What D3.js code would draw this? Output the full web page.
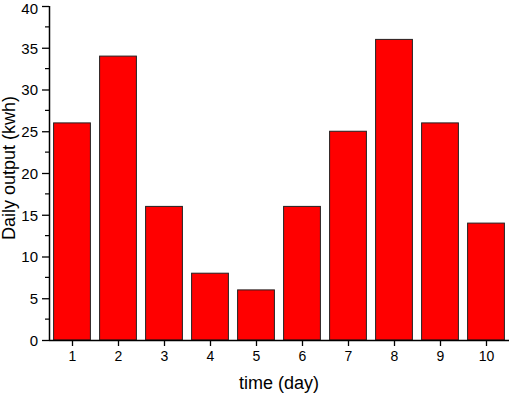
<!DOCTYPE html>
<html><head><meta charset="utf-8">
<script src="https://cdn.jsdelivr.net/npm/d3@7"></script>
<style>body{margin:0;background:#fff}svg{display:block}text{font-family:Arial,"Liberation Sans",sans-serif;fill:#000}</style>
</head><body>
<svg id="c" width="510" height="395"></svg>
<script>
const days = [1,2,3,4,5,6,7,8,9,10];
const output = [26,34,16,8,6,16,25,36,26,14];
const yTicks = [0,5,10,15,20,25,30,35,40];
const yMinor = [2.5,7.5,12.5,17.5,22.5,27.5,32.5,37.5];

const svg = d3.select("#c");
const x = d3.scaleLinear().domain([0.5,10.5]).range([49,509]);
const y = d3.scaleLinear().domain([0,40]).range([340,6]);
const bw = (x(1)-x(0))*0.8;

svg.append("g").selectAll("rect").data(days).join("rect")
  .attr("x", (d)=>x(d)-bw/2).attr("width", bw)
  .attr("y", (d,i)=>y(output[i])).attr("height", (d,i)=>y(0)-y(output[i]))
  .attr("fill","#ff0000").attr("stroke","#222").attr("stroke-width",1);

const gy = svg.append("g").attr("transform","translate(49,0)")
  .call(d3.axisLeft(y).tickValues(yTicks).tickSize(7).tickPadding(4).tickFormat(d3.format("d")));
gy.selectAll("text").style("font-size","15px").attr("dy",d=>d===40?"0.52em":"0.36em");
svg.append("g").selectAll("line").data(yMinor).join("line")
  .attr("x1",45).attr("x2",49).attr("y1",d=>y(d)).attr("y2",d=>y(d))
  .attr("stroke","#000").attr("stroke-width",1.2);

const gx = svg.append("g").attr("transform","translate(0,340)")
  .call(d3.axisBottom(x).tickValues(days).tickSize(6).tickPadding(5).tickFormat(d3.format("d")));
gx.selectAll("text").style("font-size","14px");

[gx,gy].forEach(g=>{
  g.select(".domain").attr("stroke","#000").attr("stroke-width",1.5);
  g.selectAll(".tick line").attr("stroke","#000").attr("stroke-width",1.3);
});
gx.select(".domain").attr("d","M49,0.5H509");
gy.select(".domain").attr("d","M0.5,6V340");

svg.append("text").attr("x",279).attr("y",389).attr("text-anchor","middle")
  .style("font-size","18px").text("time (day)");
svg.append("text").attr("transform","translate(15,168) rotate(-90)").attr("text-anchor","middle")
  .style("font-size","18px").text("Daily output (kwh)");
</script>
</body></html>
